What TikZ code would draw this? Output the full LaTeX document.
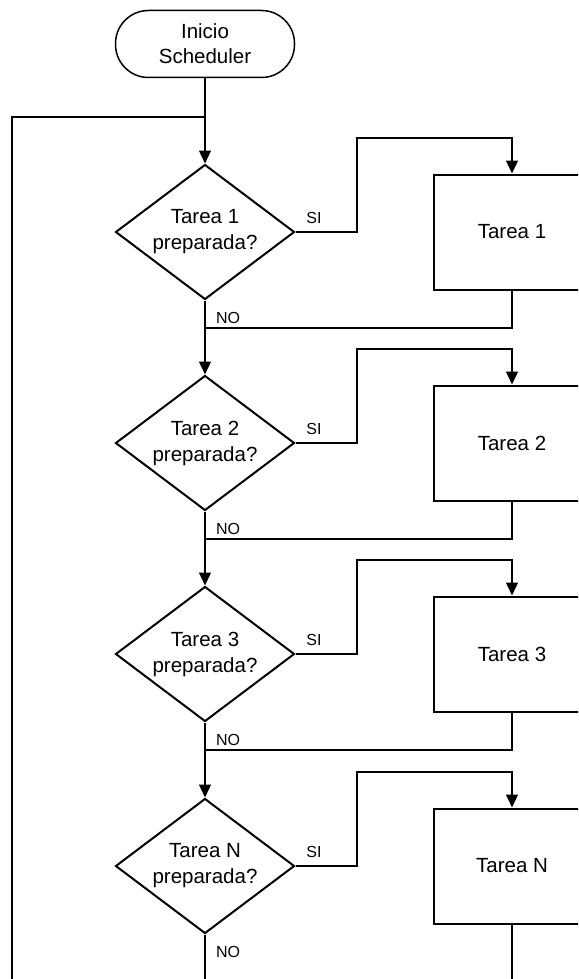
\documentclass[tikz,border=0pt]{standalone}
\usepackage{fontspec}
\setmainfont{Liberation Sans}
\usetikzlibrary{shapes.geometric,arrows.meta}
\begin{document}
\begin{tikzpicture}[x=1pt,y=-1pt,
  conn/.style={line width=1.3pt,draw=black},
  arr/.style={conn,-{Triangle[length=13pt,width=12pt]}},
  terminal/.style={draw,line width=1.5pt,rectangle,rounded corners=33pt,
    minimum width=179pt,minimum height=67pt,inner sep=0pt,align=center,
    font=\fontsize{20.5}{25}\selectfont},
  decision/.style={draw,line width=2pt,diamond,aspect=1.33,
    minimum width=179pt,minimum height=135pt,inner sep=0pt,align=center,
    font=\fontsize{20.5}{26}\selectfont},
  task/.style={draw,line width=2pt,rectangle,minimum width=156pt,
    minimum height=115pt,inner sep=0pt,font=\fontsize{20.5}{25}\selectfont},
  lbl/.style={font=\fontsize{16}{18}\selectfont,inner sep=0pt}]
\useasboundingbox (0,0) rectangle (578,979);
\clip (0,0) rectangle (578,979);

\node[terminal] (start) at (205,44) {Inicio\\Scheduler};

% one decision/task pair per scheduled task
\foreach \i/\t/\y in {1/1/232,2/2/443,3/3/654,4/N/866}{
  \node[decision] (d\i) at (205,\y) {Tarea \t\\preparada?};
  \node[task] (b\i) at (512,\y) {Tarea \t};
  \coordinate (s\i) at (357,\y-94);
  \coordinate (m\i) at (205,\y+96);
  \node[lbl] at (314,\y-14) {SI};
  \node[lbl] at (228,\y+86) {NO};
  \draw[arr] (d\i.east) -| (s\i) -| (b\i.north);
}

% return from each task to the main line
\draw[conn] (b1.south) |- (m1);
\draw[conn] (b2.south) |- (m2);
\draw[conn] (b3.south) |- (m3);

% main line and loop back to the first check
\coordinate (loopTop) at (205,117);
\coordinate (loopEnd) at (12,979);
\coordinate (mainEnd) at (205,979);
\coordinate (taskEnd) at (512,979);
\draw[arr] (start.south) -- (d1.north);
\draw[conn] (loopEnd) |- (loopTop);
\draw[arr] (d1.south) -- (d2.north);
\draw[arr] (d2.south) -- (d3.north);
\draw[arr] (d3.south) -- (d4.north);
\draw[conn] (d4.south) -- (mainEnd);
\draw[conn] (b4.south) -- (taskEnd);
\end{tikzpicture}
\end{document}
